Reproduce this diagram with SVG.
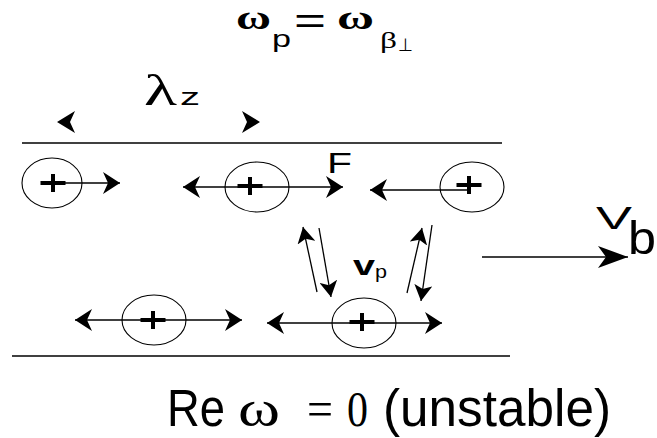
<svg xmlns="http://www.w3.org/2000/svg" width="657" height="438" viewBox="0 0 657 438">
<style>
.ln{stroke:#000;stroke-width:1.3;fill:none}
.el{stroke:#000;stroke-width:1.1;fill:none}
.pl{stroke:#000;stroke-width:4;fill:none}
.sans{font-family:"Liberation Sans",Arial,sans-serif;fill:#000}
.serif{font-family:"Liberation Serif","Times New Roman",serif;fill:#000}
</style>
<defs>
<marker id="ah" viewBox="0 0 17 22" refX="17" refY="11" markerWidth="17" markerHeight="22" orient="auto-start-reverse" markerUnits="userSpaceOnUse"><path d="M0,0 L17,11 L0,22 L5,11 z" fill="#000"/></marker>
<marker id="sh" viewBox="0 0 16 18" refX="16" refY="9" markerWidth="16" markerHeight="18" orient="auto" markerUnits="userSpaceOnUse"><path d="M0,0 L16,9 L0,18 L4,9 z" fill="#000"/></marker>
<marker id="lh" viewBox="0 0 30 22" refX="30" refY="11" markerWidth="30" markerHeight="22" orient="auto" markerUnits="userSpaceOnUse"><path d="M0,0 L30,11 L0,22 L8,11 z" fill="#000"/></marker>
<path id="plus" d="M-12.5,0 H12.5 M0,-9 V9"/>
</defs>
<rect width="657" height="438" fill="#fff"/>

<g id="title">
<text class="serif" x="236" y="29" font-size="34" font-weight="bold" textLength="35" lengthAdjust="spacingAndGlyphs">ω</text>
<text class="sans" x="272" y="47" font-size="23" textLength="19" lengthAdjust="spacingAndGlyphs">p</text>
<text class="sans" x="294" y="33" font-size="36" textLength="32" lengthAdjust="spacingAndGlyphs">=</text>
<text class="serif" x="337" y="29" font-size="34" font-weight="bold" textLength="37" lengthAdjust="spacingAndGlyphs">ω</text>
<text class="serif" x="380" y="48" font-size="23" textLength="17" lengthAdjust="spacingAndGlyphs">β</text>
<text x="398" y="51" font-family="DejaVu Sans,sans-serif" font-size="18" textLength="15" lengthAdjust="spacingAndGlyphs">⊥</text>
</g>

<g id="lambda">
<text class="serif" x="144" y="105" font-size="44" textLength="33" lengthAdjust="spacingAndGlyphs">λ</text>
<text class="sans" x="180" y="105" font-size="23" textLength="20" lengthAdjust="spacingAndGlyphs">z</text>
<path d="M57,122 L75,111 L70,122 L75,133 z" fill="#000"/>
<path d="M260,122 L242,111 L247,122 L242,133 z" fill="#000"/>
</g>

<g id="boundaries">
<line class="ln" x1="22" y1="143" x2="502" y2="143"/>
<line class="ln" x1="12" y1="356" x2="510" y2="356"/>
</g>

<g id="connectors">
<line class="ln" x1="53" y1="183" x2="120" y2="183" marker-end="url(#ah)"/>
<line class="ln" x1="183" y1="187" x2="343" y2="187" marker-start="url(#ah)" marker-end="url(#ah)"/>
<line class="ln" x1="468" y1="190" x2="370" y2="190" marker-end="url(#ah)"/>
<line class="ln" x1="75" y1="320" x2="242" y2="320" marker-start="url(#ah)" marker-end="url(#ah)"/>
<line class="ln" x1="267" y1="323" x2="442" y2="323" marker-start="url(#ah)" marker-end="url(#ah)"/>
<line class="ln" x1="317" y1="292" x2="303" y2="227" marker-end="url(#sh)"/>
<line class="ln" x1="319" y1="228" x2="331" y2="297" marker-end="url(#sh)"/>
<line class="ln" x1="407" y1="293" x2="422" y2="228" marker-end="url(#sh)"/>
<line class="ln" x1="432" y1="225" x2="421" y2="301" marker-end="url(#sh)"/>
<line class="ln" x1="482" y1="257" x2="628" y2="257" marker-end="url(#lh)"/>
</g>

<g id="p1"><ellipse class="el" cx="52" cy="183" rx="30" ry="25"/><use href="#plus" class="pl" x="53" y="183"/></g>
<g id="p2"><ellipse class="el" cx="257" cy="187" rx="32" ry="25"/><use href="#plus" class="pl" x="250" y="186"/></g>
<g id="p3"><ellipse class="el" cx="472" cy="187" rx="32" ry="25"/><use href="#plus" class="pl" x="469" y="185"/></g>
<g id="p4"><ellipse class="el" cx="154" cy="320" rx="32" ry="25"/><use href="#plus" class="pl" x="153" y="320"/></g>
<g id="p5"><ellipse class="el" cx="364" cy="323" rx="32" ry="25"/><use href="#plus" class="pl" x="362" y="322"/></g>

<g id="F"><text class="sans" x="327" y="173" font-size="30" textLength="25" lengthAdjust="spacingAndGlyphs">F</text></g>

<g id="vp">
<text class="sans" x="353" y="275" font-size="28" font-weight="bold" textLength="22" lengthAdjust="spacingAndGlyphs">v</text>
<text class="sans" x="375" y="278" font-size="18" textLength="12" lengthAdjust="spacingAndGlyphs">p</text>
</g>

<g id="Vb">
<text class="sans" x="596" y="229" font-size="31" textLength="36" lengthAdjust="spacingAndGlyphs">V</text>
<text class="sans" x="628" y="254" font-size="46" textLength="28" lengthAdjust="spacingAndGlyphs">b</text>
</g>

<g id="result">
<text class="sans" x="167" y="426" font-size="51" textLength="58" lengthAdjust="spacingAndGlyphs">Re</text>
<text class="serif" x="238" y="426" font-size="51" textLength="42" lengthAdjust="spacingAndGlyphs">ω</text>
<text class="serif" x="307" y="426" font-size="51" textLength="26" lengthAdjust="spacingAndGlyphs">=</text>
<text class="serif" x="347" y="426" font-size="50" textLength="21" lengthAdjust="spacingAndGlyphs">0</text>
<text class="sans" x="383" y="426" font-size="51" textLength="228" lengthAdjust="spacingAndGlyphs">(unstable)</text>
</g>
</svg>
